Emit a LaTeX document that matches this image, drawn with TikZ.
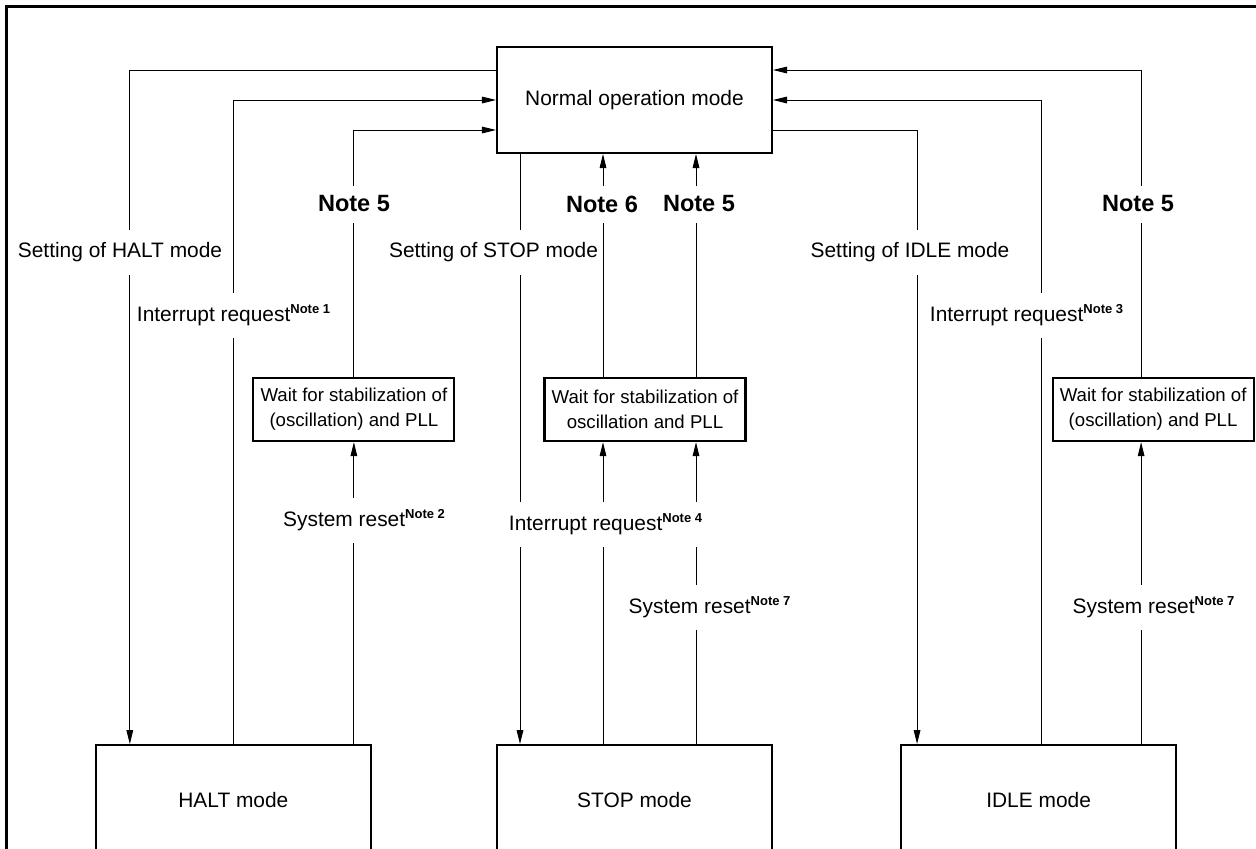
\documentclass[tikz,border=0pt]{standalone}
\usepackage{fontspec}
\setmainfont{Liberation Sans}
\usetikzlibrary{positioning,arrows.meta,calc}
\newcommand{\notesup}[1]{\textsuperscript{\fontsize{7.4pt}{8pt}\selectfont\bfseries Note #1}}

\begin{document}
\begin{tikzpicture}[
  node distance=1cm and 1cm,
  mode/.style={draw, line width=1.2pt, minimum width=5.5cm, minimum height=2.12cm, font=\fontsize{11.9pt}{14pt}\selectfont},
  waitbox/.style={draw, line width=1.2pt, align=center, minimum width=4.02cm, minimum height=1.26cm, inner sep=1pt, font=\fontsize{10.6pt}{14.2pt}\selectfont},
  lbl/.style={fill=white, inner xsep=1pt, inner ysep=0pt, minimum height=0.9cm, font=\fontsize{11.9pt}{14pt}\selectfont},
  notelbl/.style={fill=white, inner xsep=1pt, inner ysep=0pt, minimum height=0.74cm, font=\fontsize{13.4pt}{16pt}\selectfont\bfseries},
  arr/.style={-{Triangle[length=8pt,width=3.8pt]}, line width=0.5pt}
]
  \path[use as bounding box] (-12.69,2.0) rectangle (12.43,-14.96);
  \clip (-12.69,2.0) rectangle (12.43,-14.96);
  \draw[line width=1.4pt] (-12.56,-15.2) -- (-12.56,1.87) -- (12.6,1.87);

  % modes
  \node[mode] (normal) {Normal operation mode};
  \node[mode, minimum height=2.2cm, below=11.8cm of normal] (stop) {STOP mode};
  \node[mode, minimum height=2.2cm, left=2.48cm of stop] (halt) {HALT mode};
  \node[mode, minimum height=2.2cm, right=2.54cm of stop] (idle) {IDLE mode};

  % oscillation / PLL wait
  \node[waitbox, below=4.46cm of normal, xshift=0.21cm] (wait2) {Wait for stabilization of\\oscillation and PLL};
  \node[waitbox, left=1.76cm of wait2] (wait1) {Wait for stabilization of\\(oscillation) and PLL};
  \node[waitbox, right=6.1cm of wait2] (wait3) {Wait for stabilization of\\(oscillation) and PLL};

  \coordinate (haltset) at ([xshift=0.7cm]halt.north west);
  \coordinate (stopset) at ([xshift=-2.29cm]normal.south);
  \coordinate (stopint) at ([xshift=-0.63cm]stop.north);
  \coordinate (stoprst) at ([xshift=1.23cm]stop.north);
  \coordinate (idleset) at ([xshift=0.34cm]idle.north west);
  \coordinate (idleint) at ([xshift=0.05cm]idle.north);
  \coordinate (idlerst) at ([xshift=2.05cm]idle.north);

  % HALT
  \draw[arr] ([yshift=0.6cm]normal.west) -| (haltset);
  \draw[arr] (halt.north) |- (normal.west);
  \draw[arr] (wait1.south |- halt.north) -- (wait1.south);
  \draw[arr] (wait1.north) |- ([yshift=-0.6cm]normal.west);

  % STOP
  \draw[arr] (stopset) -- (stopset |- stop.north);
  \draw[arr] (stopint) -- (stopint |- wait2.south);
  \draw[arr] (stoprst) -- (stoprst |- wait2.south);
  \draw[arr] (stopint |- wait2.north) -- (stopint |- normal.south);
  \draw[arr] (stoprst |- wait2.north) -- (stoprst |- normal.south);

  % IDLE
  \draw[arr] ([yshift=-0.6cm]normal.east) -| (idleset);
  \draw[arr] (idleint) |- (normal.east);
  \draw[arr] (idlerst) -- (idlerst |- wait3.south);
  \draw[arr] (idlerst |- wait3.north) |- ([yshift=0.6cm]normal.east);

  % labels
  \node[lbl] (lsethalt) at (-10.29,-3.04) {Setting of HALT mode};
  \node[lbl] (linthalt) at (-8.01,-4.30) {Interrupt request\notesup{1}};
  \node[notelbl] (lnotea) at (-5.61,-2.08) {Note 5};
  \node[lbl] (lsetstop) at (-2.82,-3.04) {Setting of STOP mode};
  \node[notelbl] (lnoteb) at (-0.65,-2.08) {Note 6};
  \node[notelbl] (lnotec) at (1.29,-2.08) {Note 5};
  \node[lbl] (lsetidle) at (5.51,-3.04) {Setting of IDLE mode};
  \node[lbl] (lintidle) at (7.85,-4.30) {Interrupt request\notesup{3}};
  \node[notelbl] (lnoted) at (10.07,-2.08) {Note 5};
  \node[lbl] (lrsthalt) at (-5.40,-8.40) {System reset\notesup{2}};
  \node[lbl] (lintstop) at (-0.57,-8.48) {Interrupt request\notesup{4}};
  \node[lbl] (lrststop) at (1.51,-10.14) {System reset\notesup{7}};
  \node[lbl] (lrstidle) at (10.39,-10.14) {System reset\notesup{7}};
\end{tikzpicture}
\end{document}
